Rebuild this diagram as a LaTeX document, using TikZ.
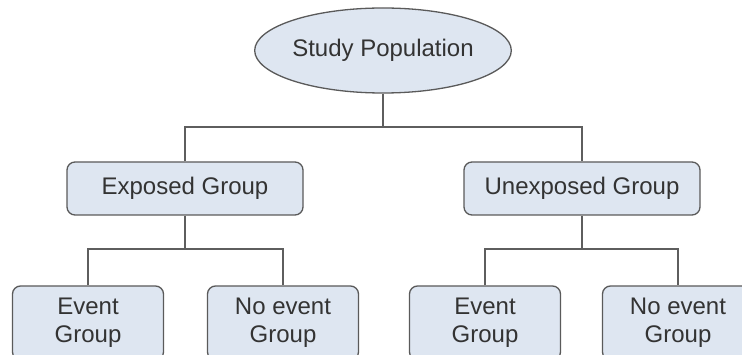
\documentclass[tikz,border=0pt]{standalone}
\usepackage{fontspec}
\setmainfont{Liberation Sans}
\usetikzlibrary{shapes.geometric}
\definecolor{boxfill}{HTML}{DEE6F1}
\definecolor{boxline}{HTML}{5A5A5A}
\definecolor{wirecol}{HTML}{5E5E5E}
\definecolor{ink}{HTML}{333333}
\begin{document}
\begin{tikzpicture}[x=1pt,y=-1pt,
  font=\fontsize{24}{28}\selectfont,
  base/.style={draw=boxline, fill=boxfill, line width=1.3pt, text=ink, inner sep=0pt},
  grp/.style={base, rectangle, rounded corners=8pt, minimum width=236pt, minimum height=53pt},
  leaf/.style={base, rectangle, rounded corners=8pt, minimum width=151pt, minimum height=74pt, align=center},
  root/.style={base, ellipse, minimum width=240pt, minimum height=85pt},
  wire/.style={draw=wirecol, line width=1.5pt}]
\useasboundingbox (0,0) rectangle (742,355);
\clip (0,0) rectangle (742,355);

% top of the tree
\node[root] (pop) at (383,50.5) {Study Population};

% exposure groups
\node[grp] (exp) at (185,188.5) {Exposed Group};
\node[grp] (unexp) at (582,188.5) {Unexposed Group};

% outcome groups
\node[leaf] (ev1) at (88,323) {Event\\Group};
\node[leaf] (nev1) at (283,323) {No event\\Group};
\node[leaf] (ev2) at (485,323) {Event\\Group};
\node[leaf] (nev2) at (678,323) {No event\\Group};

% junction points of the brackets
\coordinate (j0) at (383,127);
\coordinate (j1) at (185,249);
\coordinate (j2) at (582,249);

% connectors
\draw[wire] (pop.south) -- (j0);
\draw[wire] (exp.north) |- (j0) -| (unexp.north);
\draw[wire] (exp.south) -- (j1);
\draw[wire] (ev1.north) |- (j1) -| (nev1.north);
\draw[wire] (unexp.south) -- (j2);
\draw[wire] (ev2.north) |- (j2) -| (nev2.north);
\end{tikzpicture}
\end{document}
